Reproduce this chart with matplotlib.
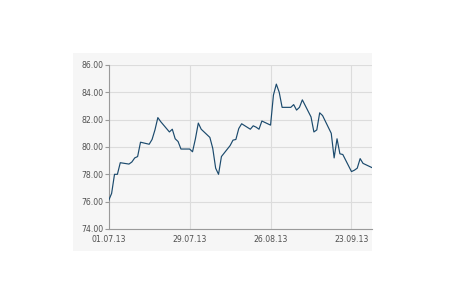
import matplotlib
matplotlib.use("Agg")
import matplotlib.pyplot as plt
import matplotlib.dates as mdates
import pandas as pd

# trading days 01.07.13 - 30.09.13
dates = pd.bdate_range("2013-07-01", "2013-09-30")
prices = [
    76.1, 76.6, 78.0, 78.0, 78.85, 78.75, 78.9, 79.2, 79.3, 80.35,
    80.2, 80.55, 81.25, 82.15, 81.85, 81.1, 81.3, 80.6, 80.4, 79.85,
    79.85, 79.65, 80.6, 81.75, 81.3, 80.7, 79.9, 78.45, 78.0, 79.3,
    80.1, 80.5, 80.55, 81.35, 81.7, 81.3, 81.55, 81.45, 81.3, 81.9,
    81.6, 83.8, 84.6, 84.0, 82.9, 82.9, 83.1, 82.7, 82.9, 83.45,
    82.2, 81.1, 81.25, 82.5, 82.3, 81.0, 79.2, 80.6, 79.5, 79.45,
    78.2, 78.3, 78.45, 79.15, 78.8, 78.5,
]
tick_dates = ["2013-07-01", "2013-07-29", "2013-08-26", "2013-09-23"]
y_ticks = [74, 76, 78, 80, 82, 84, 86]

fig = plt.figure(figsize=(4.5, 3), dpi=100)
fig.patch.set_facecolor("white")

# light grey panel behind the chart
bg = fig.add_axes([0.162, 0.164, 0.664, 0.66])
bg.set_facecolor("#f6f6f6")
bg.set_xticks([])
bg.set_yticks([])
for s in bg.spines.values():
    s.set_visible(False)
bg.set_zorder(0)

ax = fig.add_axes([0.2416, 0.2367, 0.5844, 0.5467])
ax.set_facecolor("none")
ax.set_zorder(1)

ax.plot(dates, prices, color="#1b4a6d", linewidth=0.85, zorder=3)

ax.set_ylim(74, 86)
ax.set_xlim(dates[0], dates[-1])
ax.set_yticks(y_ticks)
ax.set_yticklabels([f"{v:.2f}" for v in y_ticks])
ax.set_xticks(pd.to_datetime(tick_dates))
ax.xaxis.set_major_formatter(mdates.DateFormatter("%d.%m.%y"))

ax.grid(True, color="#dcdcdc", linewidth=0.8)
ax.set_axisbelow(True)

for side in ["top", "right"]:
    ax.spines[side].set_visible(False)
for side in ["left", "bottom"]:
    ax.spines[side].set_color("#9a9a9a")
    ax.spines[side].set_linewidth(0.8)

ax.tick_params(axis="y", length=3, width=0.8, color="#9a9a9a",
               labelsize=5.6, labelcolor="#505050", pad=1)
ax.tick_params(axis="x", length=0, labelsize=5.6, labelcolor="#505050", pad=4)

fig.savefig("out.png", dpi=100)
